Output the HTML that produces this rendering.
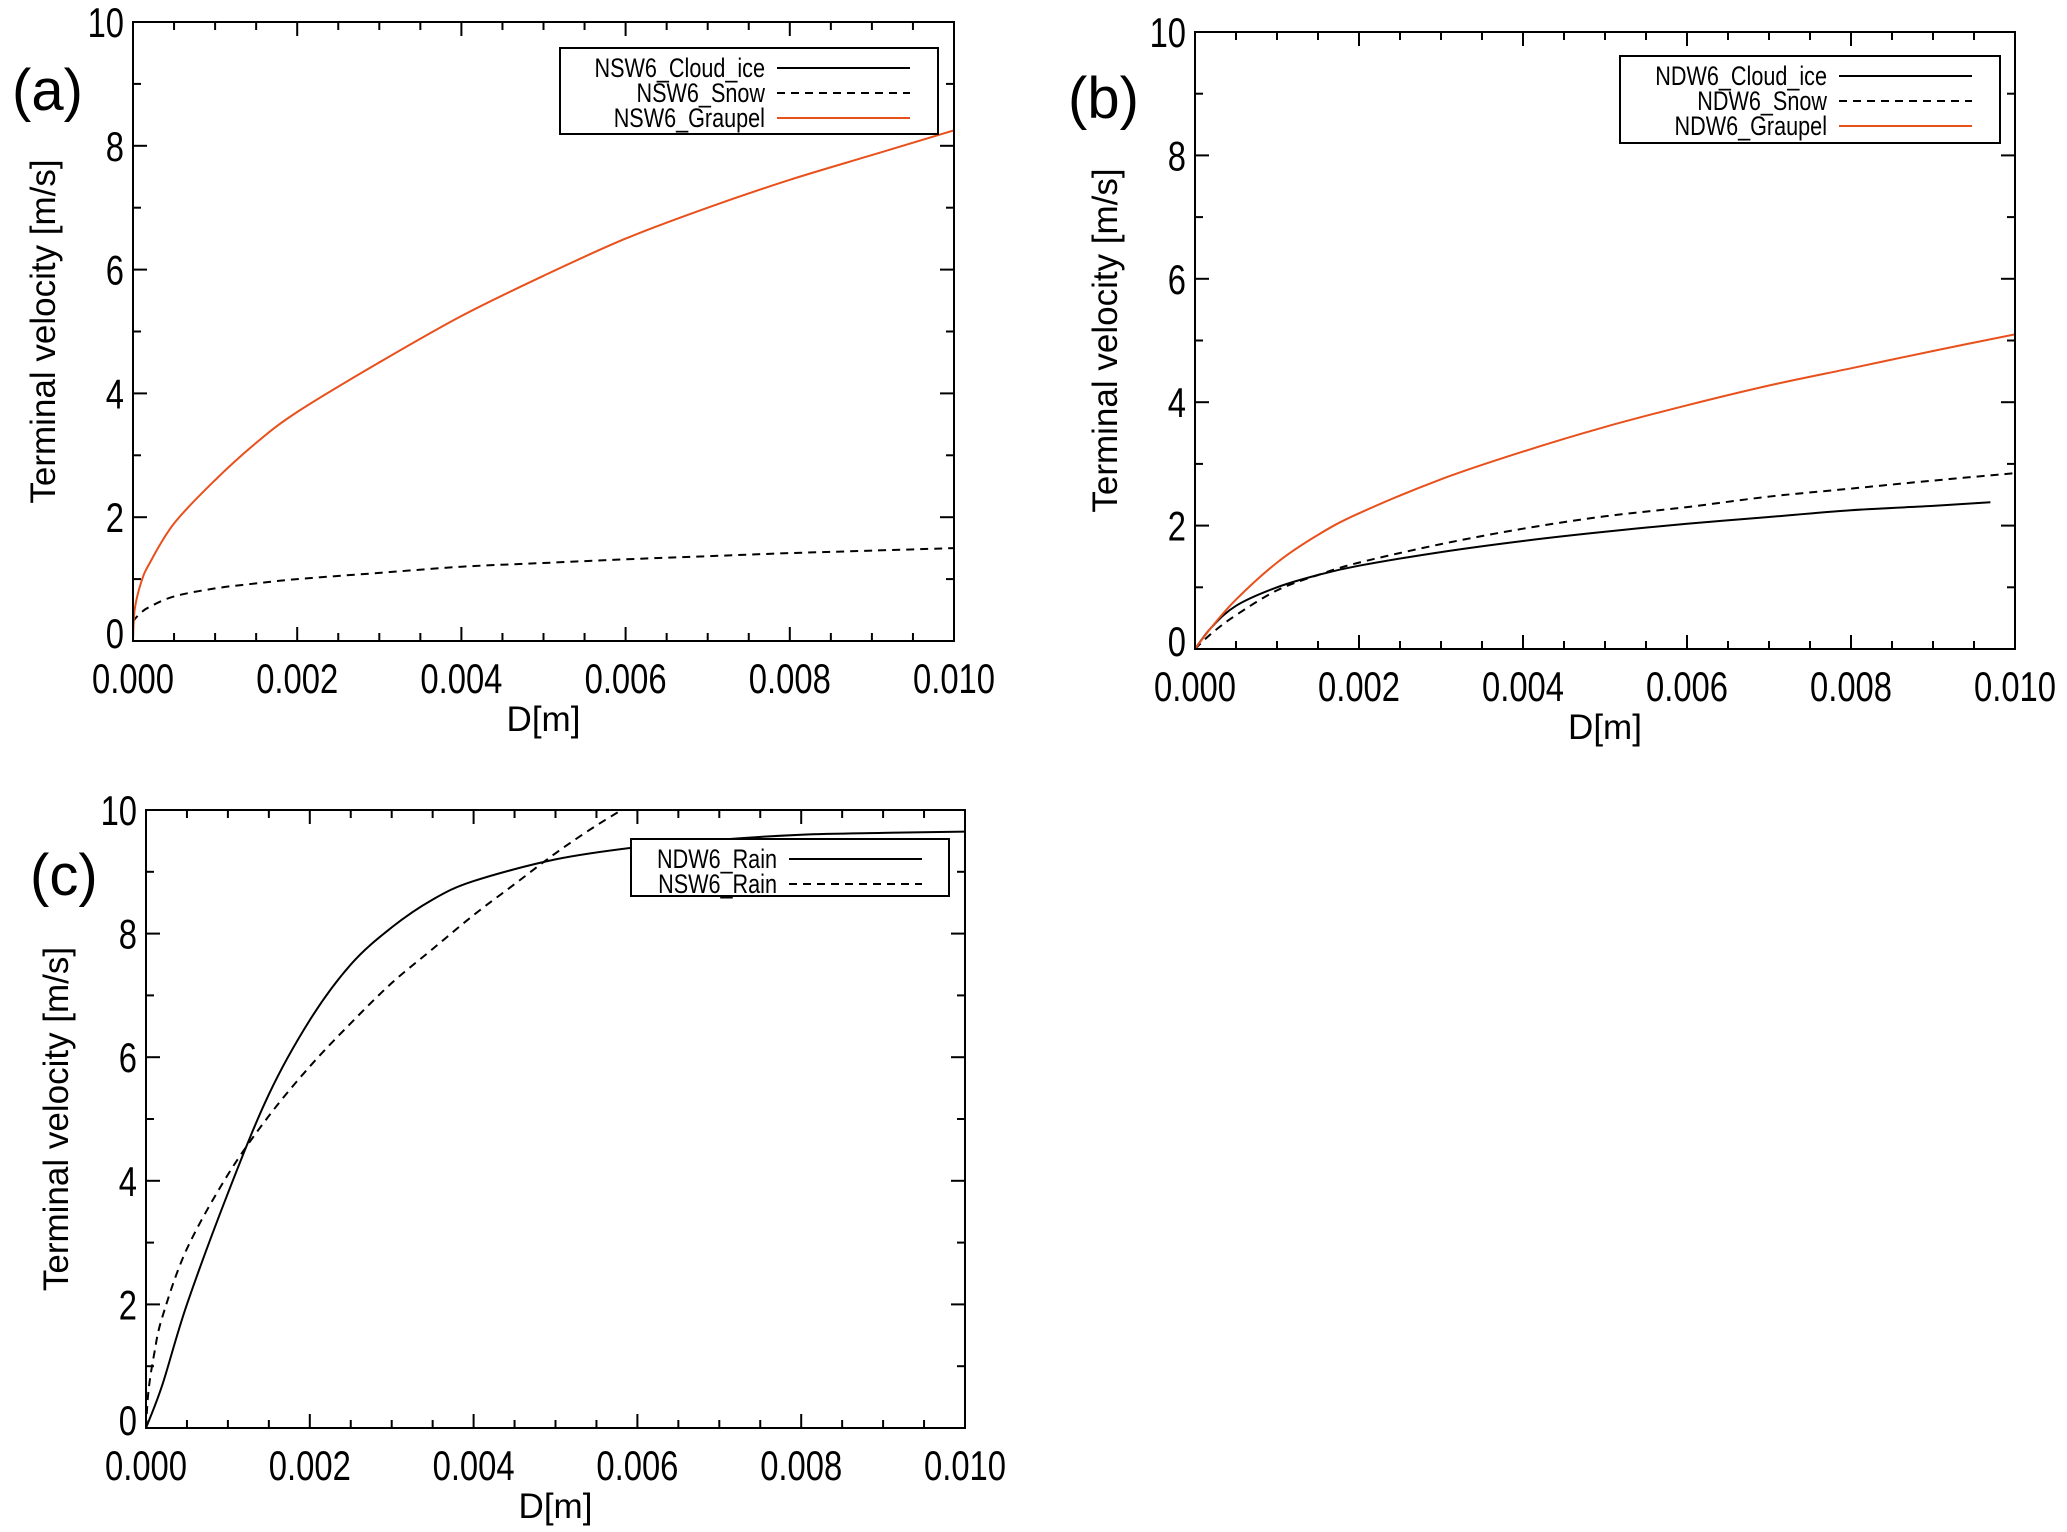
<!DOCTYPE html>
<html><head><meta charset="utf-8"><style>
html,body{margin:0;padding:0;background:#fff;}
svg{display:block;font-family:"Liberation Sans",sans-serif;}
</style></head><body>
<svg id="fig" width="2067" height="1532" viewBox="0 0 2067 1532"></svg>
<script>
// ---- data ----
const xTicks = [0, 0.002, 0.004, 0.006, 0.008, 0.010];
const xTickLabels = ["0.000","0.002","0.004","0.006","0.008","0.010"];
const yTicks = [0, 2, 4, 6, 8, 10];
const yTickLabels = ["0","2","4","6","8","10"];

const aD = [0, 0.00002, 0.0001, 0.0002, 0.0005, 0.001, 0.0015, 0.002, 0.003, 0.004, 0.005, 0.006, 0.007, 0.008, 0.009, 0.010];
const aGraupel = [0, 0.5, 0.95, 1.25, 1.9, 2.6, 3.2, 3.7, 4.5, 5.25, 5.9, 6.5, 7.0, 7.45, 7.85, 8.25];
const aSnow = [0.3, 0.35, 0.46, 0.55, 0.72, 0.85, 0.93, 1.0, 1.1, 1.2, 1.26, 1.32, 1.37, 1.42, 1.46, 1.5];

const bD = [0, 0.0002, 0.0005, 0.001, 0.0015, 0.002, 0.003, 0.004, 0.005, 0.006, 0.007, 0.008, 0.009, 0.010];
const bGraupel = [0, 0.35, 0.8, 1.4, 1.85, 2.2, 2.75, 3.2, 3.6, 3.95, 4.27, 4.55, 4.83, 5.1];
const bSnow = [0, 0.25, 0.55, 0.95, 1.2, 1.4, 1.7, 1.95, 2.15, 2.3, 2.47, 2.6, 2.73, 2.85];
const bCloudD = [0, 0.0002, 0.0005, 0.001, 0.0015, 0.002, 0.003, 0.004, 0.005, 0.006, 0.007, 0.008, 0.009, 0.0097];
const bCloudIce = [0, 0.35, 0.7, 1.0, 1.2, 1.35, 1.57, 1.75, 1.9, 2.03, 2.14, 2.25, 2.32, 2.38];

const cD = [0, 0.0002, 0.0005, 0.001, 0.0015, 0.002, 0.0025, 0.003, 0.0035, 0.004, 0.005, 0.006, 0.007, 0.008, 0.009, 0.010];
const cNDW6 = [0, 0.7, 2.0, 3.8, 5.4, 6.6, 7.5, 8.1, 8.55, 8.85, 9.2, 9.4, 9.52, 9.6, 9.63, 9.65];
const cNSD = [0, 0.00003, 0.0001, 0.0002, 0.0005, 0.001, 0.0015, 0.002, 0.0025, 0.003, 0.0035, 0.004, 0.0045, 0.005, 0.0055, 0.006];
const cNSW6 = [0, 0.6, 1.2, 1.8, 2.9, 4.1, 5.05, 5.85, 6.55, 7.2, 7.75, 8.3, 8.8, 9.3, 9.75, 10.15];

// ---- drawing ----
const NS = "http://www.w3.org/2000/svg";
const svg = document.getElementById("fig");
function el(tag, attrs, parent){
  const e = document.createElementNS(NS, tag);
  for (const k in attrs) e.setAttribute(k, attrs[k]);
  (parent||svg).appendChild(e);
  return e;
}
function squeeze(t, f){
  const w = t.getComputedTextLength();
  t.setAttribute("textLength", (w * f).toFixed(1));
  t.setAttribute("lengthAdjust", "spacingAndGlyphs");
}
function smoothPath(P){
  let d = "M" + P[0][0].toFixed(1) + "," + P[0][1].toFixed(1);
  for (let i = 0; i < P.length - 1; i++){
    const p0 = P[Math.max(0, i-1)], p1 = P[i], p2 = P[i+1], p3 = P[Math.min(P.length-1, i+2)];
    const c1 = [p1[0] + (p2[0]-p0[0])/6, p1[1] + (p2[1]-p0[1])/6];
    const c2 = [p2[0] - (p3[0]-p1[0])/6, p2[1] - (p3[1]-p1[1])/6];
    d += ` C${c1[0].toFixed(1)},${c1[1].toFixed(1)} ${c2[0].toFixed(1)},${c2[1].toFixed(1)} ${p2[0].toFixed(1)},${p2[1].toFixed(1)}`;
  }
  return d;
}
function panel(p){
  const g = el("g", {});
  
  
  const xs = v => p.x0 + v / 0.010 * (p.x1 - p.x0);
  const ys = v => p.y1 - v / 10 * (p.y1 - p.y0);
  const clip = el("clipPath", {id: p.name + "-clip"}, g);
  el("rect", {x:p.x0, y:p.y0, width:p.x1-p.x0, height:p.y1-p.y0}, clip);
  const tk = el("g", {stroke:"#000","stroke-width":2}, g);
  
  
  for (let i = 0; i <= 20; i++){
    const X = xs(i * 0.0005), L = (i % 4 === 0) ? 14 : 8;
    el("line", {x1:X, y1:p.y1, x2:X, y2:p.y1-L}, tk);
    el("line", {x1:X, y1:p.y0, x2:X, y2:p.y0+L}, tk);
  }
  for (let i = 0; i <= 10; i++){
    const Y = ys(i), L = (i % 2 === 0) ? 14 : 8;
    el("line", {x1:p.x0, y1:Y, x2:p.x0+L, y2:Y}, tk);
    el("line", {x1:p.x1, y1:Y, x2:p.x1-L, y2:Y}, tk);
  }
  xTicks.forEach((v, i) => {
    const t = el("text", {x:xs(v), y:p.y1+52, "font-size":42, "text-anchor":"middle"}, g);
    t.textContent = xTickLabels[i];
    
    
    squeeze(t, 0.78);
  });
  yTicks.forEach((v, i) => {
    const t = el("text", {x:p.x0-9, y:ys(v)+15 - (v===0?8:0), "font-size":42, "text-anchor":"end"}, g);
    t.textContent = yTickLabels[i];
    
    
    squeeze(t, 0.78);
  });
  const xt = el("text", {x:(p.x0+p.x1)/2, y:p.y1+90, "font-size":35, "text-anchor":"middle"}, g);
  xt.textContent = "D[m]";
  
  
  const yx = p.x0 - 78, yy = (p.y0 + p.y1) / 2;
  const yt = el("text", {x:yx, y:yy, "font-size":35, "text-anchor":"middle", transform:`rotate(-90 ${yx} ${yy})`}, g);
  yt.textContent = "Terminal velocity [m/s]";
  
  
  const pl = el("text", {x:p.lx, y:p.ly, "font-size":58}, g);
  pl.textContent = p.label;
  
  
  p.series.forEach(s => {
    const P = s.x.map((d, i) => [xs(d), ys(s.y[i])]);
    const line = el("path", {d:smoothPath(P), fill:"none", stroke:s.color, "stroke-width":2, "stroke-dasharray":s.dash||"none", "clip-path":`url(#${p.name}-clip)`, "stroke-linejoin":"round"}, g);
    
    
  });
  const lg = el("g", {}, g);
  
  
  const L = p.legend;
  el("rect", {x:L.x, y:L.y, width:L.w, height:L.h, fill:"#fff", stroke:"#000", "stroke-width":2}, lg);
  p.series.concat(p.extraLegend||[]).sort((a,b)=>a.order-b.order).forEach((s, i) => {
    const cy = L.y + 20 + i * 25;
    const t = el("text", {x:L.tx, y:cy+9, "font-size":27, "text-anchor":"end"}, lg);
    t.textContent = s.label;
    
    
    squeeze(t, 0.8);
    const ln = el("line", {x1:L.tx+12, y1:cy, x2:L.tx+145, y2:cy, stroke:s.color, "stroke-width":2, "stroke-dasharray":s.dash||"none"}, lg);
    
    
  });
  el("rect", {x:p.x0, y:p.y0, width:p.x1-p.x0, height:p.y1-p.y0, fill:"none", stroke:"#000", "stroke-width":2}, g);
}
const OR = "#e8501c";
panel({name:"panel-a", label:"(a)", lx:12, ly:110, x0:133, x1:954, y0:22, y1:641,
  legend:{x:560, y:48, w:378, h:86, tx:765},
  series:[
    {name:"nsw6-snow-line", label:"NSW6_Snow", x:aD, y:aSnow, color:"#000", dash:"8,6", order:1},
    {name:"nsw6-graupel-line", label:"NSW6_Graupel", x:aD, y:aGraupel, color:OR, order:2}],
  extraLegend:[{label:"NSW6_Cloud_ice", color:"#000", order:0}]
});
panel({name:"panel-b", label:"(b)", lx:1068, ly:118, x0:1195, x1:2015, y0:32, y1:649,
  legend:{x:1620, y:56, w:380, h:87, tx:1827},
  series:[
    {name:"ndw6-cloud-ice-line", label:"NDW6_Cloud_ice", x:bCloudD, y:bCloudIce, color:"#000", order:0},
    {name:"ndw6-snow-line", label:"NDW6_Snow", x:bD, y:bSnow, color:"#000", dash:"8,6", order:1},
    {name:"ndw6-graupel-line", label:"NDW6_Graupel", x:bD, y:bGraupel, color:OR, order:2}]
});
panel({name:"panel-c", label:"(c)", lx:30, ly:895, x0:146, x1:965, y0:810, y1:1428,
  legend:{x:631, y:839, w:318, h:57, tx:777},
  series:[
    {name:"ndw6-rain-line", label:"NDW6_Rain", x:cD, y:cNDW6, color:"#000", order:0},
    {name:"nsw6-rain-line", label:"NSW6_Rain", x:cNSD, y:cNSW6, color:"#000", dash:"8,6", order:1}]
});
</script>
</body></html>
